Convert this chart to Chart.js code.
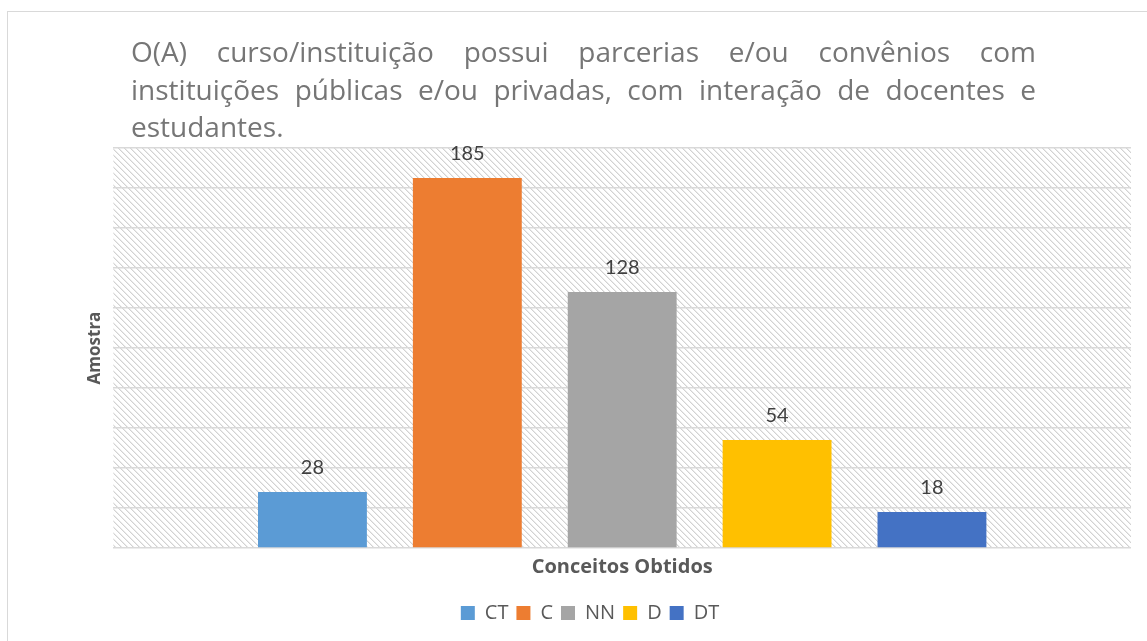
<!DOCTYPE html>
<html>
<head>
<meta charset="utf-8">
<script src="https://cdn.jsdelivr.net/npm/chart.js@4"></script>
<style>
  html, body { margin: 0; padding: 0; background: #fff; overflow: hidden; }
  #frame { position: absolute; left: 7px; top: 11px; width: 1200px; height: 700px; border: 1px solid #d9d9d9; }
  #chart { position: absolute; left: 0; top: 0; }
  #titulo { position: absolute; left: 131px; top: 33px; width: 905px; font-family: 'Open Sans', sans-serif; font-size: 28px; line-height: 37.5px; color: #767676; }
  #titulo .j { text-align: justify; text-align-last: justify; white-space: nowrap; }
</style>
</head>
<body>
<div id="frame"></div>
<canvas id="chart" width="1147" height="641"></canvas>
<div id="titulo">
  <div class="j">O(A) curso/instituição possui parcerias e/ou convênios com</div>
  <div class="j">instituições públicas e/ou privadas, com interação de docentes e</div>
  <div>estudantes.</div>
</div>
<script>
// dados do gráfico
const categorias = [''];
const series = ['CT', 'C', 'NN', 'D', 'DT'];
const valores = [28, 185, 128, 54, 18];
const cores = ['#5B9BD5', '#ED7D31', '#A5A5A5', '#FFC000', '#4472C4'];
const yMax = 200;
const yPasso = 20;

// fundo hachurado da área do gráfico
function criarHachura(ctx) {
  const c = document.createElement('canvas');
  c.width = 6;
  c.height = 6;
  const p = c.getContext('2d');
  p.fillStyle = '#fff';
  p.fillRect(0, 0, 6, 6);
  for (let i = 0; i < 6; i++) {
    p.fillStyle = '#d2d2d2';
    p.fillRect(i, i, 1, 1);
    p.fillStyle = '#ebebeb';
    p.fillRect((i + 1) % 6, i, 1, 1);
  }
  return ctx.createPattern(c, 'repeat');
}

const fundoHachurado = {
  id: 'fundoHachurado',
  beforeDraw(chart) {
    const { ctx, chartArea } = chart;
    ctx.save();
    ctx.fillStyle = criarHachura(ctx);
    ctx.fillRect(chartArea.left, chartArea.top, chartArea.right - chartArea.left, chartArea.bottom - chartArea.top);
    ctx.restore();
  }
};

// rótulos de valor acima das barras
const rotulos = {
  id: 'rotulos',
  afterDatasetsDraw(chart) {
    const ctx = chart.ctx;
    ctx.save();
    ctx.font = '20px Lato';
    ctx.fillStyle = '#404040';
    ctx.textAlign = 'center';
    ctx.textBaseline = 'alphabetic';
    chart.data.datasets.forEach((ds, i) => {
      chart.getDatasetMeta(i).data.forEach((bar, j) => {
        ctx.fillText(ds.data[j], bar.x, bar.y - 18);
      });
    });
    ctx.restore();
  }
};

function desenhar() {
  Chart.defaults.font.family = 'Open Sans';
  Chart.defaults.color = '#595959';

  new Chart(document.getElementById('chart'), {
    type: 'bar',
    data: {
      labels: categorias,
      datasets: series.map((nome, i) => ({
        label: nome,
        data: [valores[i]],
        backgroundColor: cores[i],
        categoryPercentage: 0.761,
        barPercentage: 0.703
      }))
    },
    options: {
      responsive: false,
      animation: false,
      layout: { padding: { top: 148, left: 49, right: 16, bottom: 8 } },
      plugins: {
        tooltip: { enabled: false },
        legend: {
          position: 'bottom',
          labels: { boxWidth: 14, boxHeight: 14, padding: 8, font: { size: 20 }, color: '#595959' }
        }
      },
      scales: {
        x: {
          grid: { display: false, drawTicks: false },
          border: { display: false },
          ticks: { display: false },
          title: { display: true, text: 'Conceitos Obtidos', font: { size: 20, weight: 'bold' }, color: '#595959', padding: { top: 7, bottom: 16 } }
        },
        y: {
          min: 0,
          max: yMax,
          grid: { color: '#d9d9d9', lineWidth: 1.5, drawTicks: false },
          border: { display: false },
          ticks: { display: false, stepSize: yPasso },
          title: { display: true, text: 'Amostra', font: { size: 17, weight: 'bold' }, color: '#595959', padding: { top: 36, bottom: 8 } }
        }
      }
    },
    plugins: [fundoHachurado, rotulos]
  });
}

Promise.all([
  document.fonts.load('28px "Open Sans"'),
  document.fonts.load('bold 17px "Open Sans"'),
  document.fonts.load('20px Lato')
]).then(desenhar, desenhar);
</script>
</body>
</html>
